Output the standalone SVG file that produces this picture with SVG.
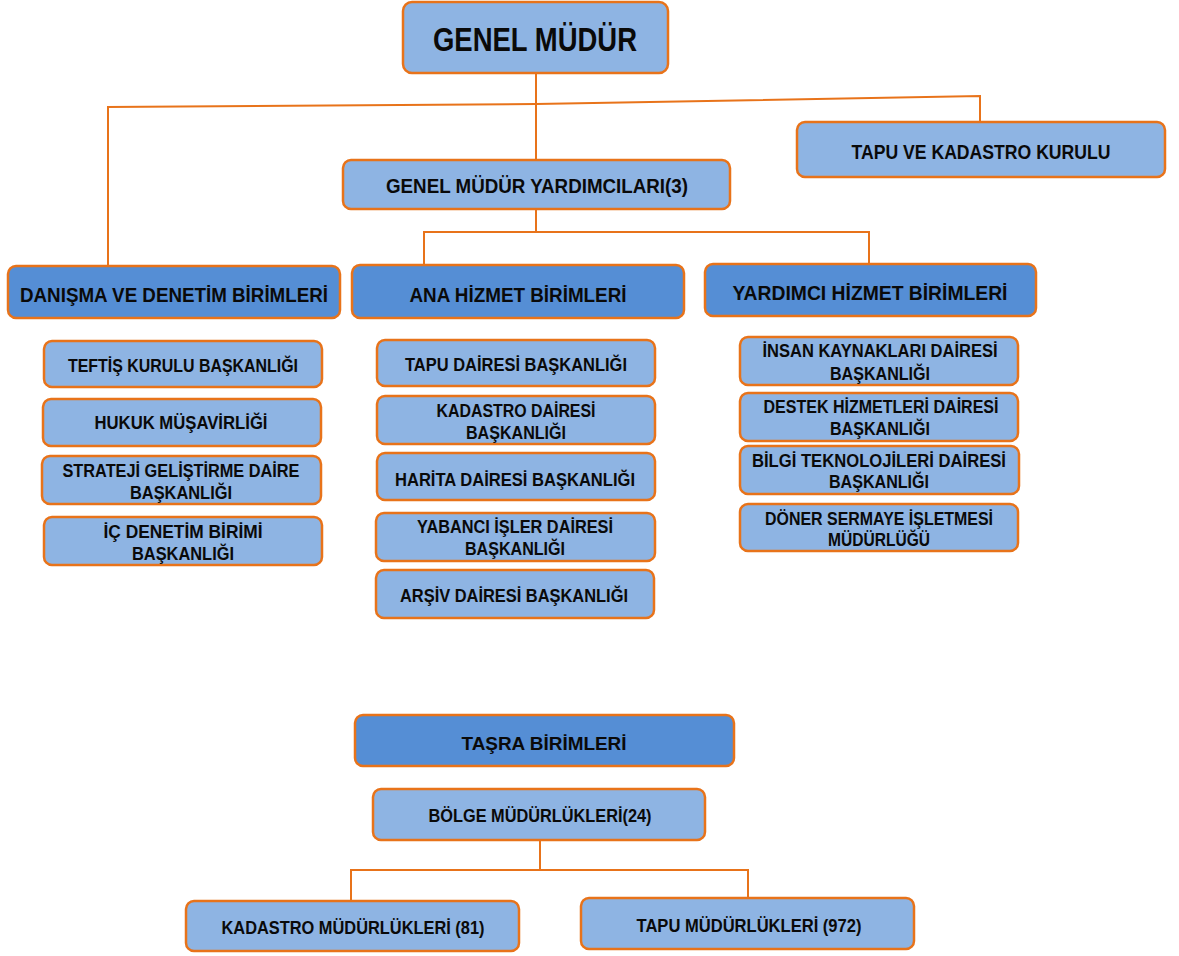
<svg xmlns="http://www.w3.org/2000/svg" width="1179" height="956" viewBox="0 0 1179 956">
<style>
.box{stroke:#E8731A;stroke-width:2.5}
.lt{fill:#8EB4E3}
.dk{fill:#558ED5}
.t{font-family:"Liberation Sans","DejaVu Sans",sans-serif;font-weight:bold;fill:#0a0a0a;text-anchor:middle;font-size:19px}
.h{font-size:20px}
.conn{stroke:#E8731A;stroke-width:2;fill:none}
</style>
<rect width="1179" height="956" fill="#ffffff"/>
<g id="connectors" class="conn">
<path d="M536 73 V160"/>
<path d="M107 107 L536 104 L980 96 V122"/>
<path d="M108 107 V266"/>
<path d="M536 209 V232"/>
<path d="M424 266 V232 H869 V264"/>
<path d="M540 840 V870"/>
<path d="M351 902 V870 H748 V898"/>
</g>
<g id="genel-mudur">
<rect class="box lt" x="403" y="2" width="265" height="71" rx="9"/>
<text class="t" x="535" y="51" style="font-size:34px" textLength="204" lengthAdjust="spacingAndGlyphs">GENEL MÜDÜR</text>
</g>
<g id="tapu-kadastro-kurulu">
<rect class="box lt" x="797" y="122" width="368" height="55" rx="8"/>
<text class="t h" x="981" y="159" textLength="259" lengthAdjust="spacingAndGlyphs">TAPU VE KADASTRO KURULU</text>
</g>
<g id="gmy">
<rect class="box lt" x="343" y="160" width="387" height="49" rx="8"/>
<text class="t h" x="537" y="193" textLength="302" lengthAdjust="spacingAndGlyphs">GENEL MÜDÜR YARDIMCILARI(3)</text>
</g>
<g id="danisma">
<rect class="box dk" x="8" y="266" width="332" height="52" rx="8"/>
<text class="t h" x="174" y="302" textLength="308" lengthAdjust="spacingAndGlyphs">DANIŞMA VE DENETİM BİRİMLERİ</text>
</g>
<g id="ana-hizmet">
<rect class="box dk" x="352" y="265" width="332" height="53" rx="8"/>
<text class="t h" x="518" y="302" textLength="217" lengthAdjust="spacingAndGlyphs">ANA HİZMET BİRİMLERİ</text>
</g>
<g id="yardimci-hizmet">
<rect class="box dk" x="705" y="264" width="331" height="52" rx="8"/>
<text class="t h" x="870" y="300" textLength="275" lengthAdjust="spacingAndGlyphs">YARDIMCI HİZMET BİRİMLERİ</text>
</g>
<g id="teftis">
<rect class="box lt" x="44" y="341" width="278" height="46" rx="8"/>
<text class="t" x="183" y="372" textLength="230" lengthAdjust="spacingAndGlyphs">TEFTİŞ KURULU BAŞKANLIĞI</text>
</g>
<g id="hukuk">
<rect class="box lt" x="43" y="399" width="278" height="47" rx="8"/>
<text class="t" x="181" y="429" textLength="173" lengthAdjust="spacingAndGlyphs">HUKUK MÜŞAVİRLİĞİ</text>
</g>
<g id="strateji">
<rect class="box lt" x="42" y="456" width="279" height="48" rx="8"/>
<text class="t" x="181" y="477" textLength="237" lengthAdjust="spacingAndGlyphs">STRATEJİ GELİŞTİRME DAİRE</text>
<text class="t" x="181" y="499" textLength="102" lengthAdjust="spacingAndGlyphs">BAŞKANLIĞI</text>
</g>
<g id="ic-denetim">
<rect class="box lt" x="44" y="517" width="278" height="48" rx="8"/>
<text class="t" x="183" y="538" textLength="159" lengthAdjust="spacingAndGlyphs">İÇ DENETİM BİRİMİ</text>
<text class="t" x="183" y="560" textLength="102" lengthAdjust="spacingAndGlyphs">BAŞKANLIĞI</text>
</g>
<g id="tapu-dairesi">
<rect class="box lt" x="377" y="340" width="278" height="46" rx="8"/>
<text class="t" x="516" y="371" textLength="222" lengthAdjust="spacingAndGlyphs">TAPU DAİRESİ BAŞKANLIĞI</text>
</g>
<g id="kadastro-dairesi">
<rect class="box lt" x="377" y="396" width="278" height="48" rx="8"/>
<text class="t" x="516" y="417" textLength="159" lengthAdjust="spacingAndGlyphs">KADASTRO DAİRESİ</text>
<text class="t" x="516" y="439" textLength="100" lengthAdjust="spacingAndGlyphs">BAŞKANLIĞI</text>
</g>
<g id="harita-dairesi">
<rect class="box lt" x="377" y="453" width="278" height="47" rx="8"/>
<text class="t" x="515" y="486" textLength="240" lengthAdjust="spacingAndGlyphs">HARİTA DAİRESİ BAŞKANLIĞI</text>
</g>
<g id="yabanci-isler">
<rect class="box lt" x="376" y="513" width="279" height="48" rx="8"/>
<text class="t" x="515" y="533" textLength="196" lengthAdjust="spacingAndGlyphs">YABANCI İŞLER DAİRESİ</text>
<text class="t" x="515" y="555" textLength="100" lengthAdjust="spacingAndGlyphs">BAŞKANLIĞI</text>
</g>
<g id="arsiv-dairesi">
<rect class="box lt" x="376" y="570" width="278" height="48" rx="8"/>
<text class="t" x="514" y="602" textLength="228" lengthAdjust="spacingAndGlyphs">ARŞİV DAİRESİ BAŞKANLIĞI</text>
</g>
<g id="insan-kaynaklari">
<rect class="box lt" x="740" y="337" width="278" height="48" rx="8"/>
<text class="t" x="880" y="357" textLength="235" lengthAdjust="spacingAndGlyphs">İNSAN KAYNAKLARI DAİRESİ</text>
<text class="t" x="880" y="380" textLength="100" lengthAdjust="spacingAndGlyphs">BAŞKANLIĞI</text>
</g>
<g id="destek-hizmetleri">
<rect class="box lt" x="740" y="393" width="278" height="48" rx="8"/>
<text class="t" x="881" y="413" textLength="235" lengthAdjust="spacingAndGlyphs">DESTEK HİZMETLERİ DAİRESİ</text>
<text class="t" x="880" y="435" textLength="100" lengthAdjust="spacingAndGlyphs">BAŞKANLIĞI</text>
</g>
<g id="bilgi-teknolojileri">
<rect class="box lt" x="740" y="446" width="279" height="48" rx="8"/>
<text class="t" x="879" y="467" textLength="254" lengthAdjust="spacingAndGlyphs">BİLGİ TEKNOLOJİLERİ DAİRESİ</text>
<text class="t" x="879" y="488" textLength="100" lengthAdjust="spacingAndGlyphs">BAŞKANLIĞI</text>
</g>
<g id="doner-sermaye">
<rect class="box lt" x="740" y="504" width="278" height="47" rx="8"/>
<text class="t" x="879" y="525" textLength="228" lengthAdjust="spacingAndGlyphs">DÖNER SERMAYE İŞLETMESİ</text>
<text class="t" x="879" y="546" textLength="102" lengthAdjust="spacingAndGlyphs">MÜDÜRLÜĞÜ</text>
</g>
<g id="tasra">
<rect class="box dk" x="355" y="715" width="379" height="51" rx="8"/>
<text class="t" x="544" y="750" textLength="165" lengthAdjust="spacingAndGlyphs">TAŞRA BİRİMLERİ</text>
</g>
<g id="bolge">
<rect class="box lt" x="373" y="789" width="332" height="51" rx="8"/>
<text class="t" x="540" y="822" textLength="223" lengthAdjust="spacingAndGlyphs">BÖLGE MÜDÜRLÜKLERİ(24)</text>
</g>
<g id="kadastro-mudurlukleri">
<rect class="box lt" x="186" y="901" width="333" height="50" rx="8"/>
<text class="t" x="353" y="934" textLength="263" lengthAdjust="spacingAndGlyphs">KADASTRO MÜDÜRLÜKLERİ (81)</text>
</g>
<g id="tapu-mudurlukleri">
<rect class="box lt" x="581" y="898" width="333" height="51" rx="8"/>
<text class="t" x="749" y="932" textLength="225" lengthAdjust="spacingAndGlyphs">TAPU MÜDÜRLÜKLERİ (972)</text>
</g>
</svg>
